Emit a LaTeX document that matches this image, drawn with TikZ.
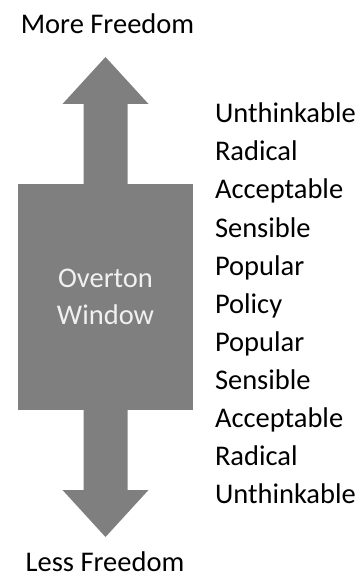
\documentclass[tikz,border=0pt]{standalone}
\usepackage{fontspec}
\setmainfont{Carlito}
\usepackage{tikz}
\usetikzlibrary{
	positioning,
	calc
}
\definecolor{arrowgray}{RGB}{127,127,127}
\definecolor{wintext}{RGB}{240,240,240}

\begin{document}
\begin{tikzpicture}[
				x=1pt, y=-1pt,
				label/.style={
					inner sep=0, outer sep=0,
					font=\fontsize{28.5}{37}\selectfont
				},
				winbox/.style={
					rectangle, fill=arrowgray, inner sep=0, outer sep=0,
					minimum width=175pt, minimum height=226pt,
					align=center, text=wintext,
					font=\fontsize{28.5}{37}\selectfont
				},
				shaft/.style={fill=arrowgray}
				]
				\useasboundingbox (0,0) rectangle (363,577);
				
				% window
				\node[winbox] (window) at (105.5,297) {Overton\\Window};
				
				% arrow up
				\fill[shaft] ([xshift=-22pt]window.north) -- ++(0,-80) -- ++(-21,0)
					-- ++(43,-47) -- ++(43,47) -- ++(-21,0) -- ++(0,80) -- cycle;
				
				% arrow down
				\fill[shaft] ([xshift=-22pt]window.south) -- ++(0,80) -- ++(-21,0)
					-- ++(43,47) -- ++(43,-47) -- ++(-21,0) -- ++(0,-80) -- cycle;
				
				% top and bottom
				\node[label, anchor=base] (more) at (107.5,34) {More Freedom};
				\node[label, anchor=base] (less) at (105,571) {Less Freedom};
				
				% levels
				\foreach \name [count=\i from 0] in {Unthinkable, Radical, Acceptable,
					Sensible, Popular, Policy, Popular, Sensible, Acceptable,
					Radical, Unthinkable}
					\node[label, anchor=base west] (lvl\i) at (215,123+38*\i) {\name};
			\end{tikzpicture}
\end{document}
